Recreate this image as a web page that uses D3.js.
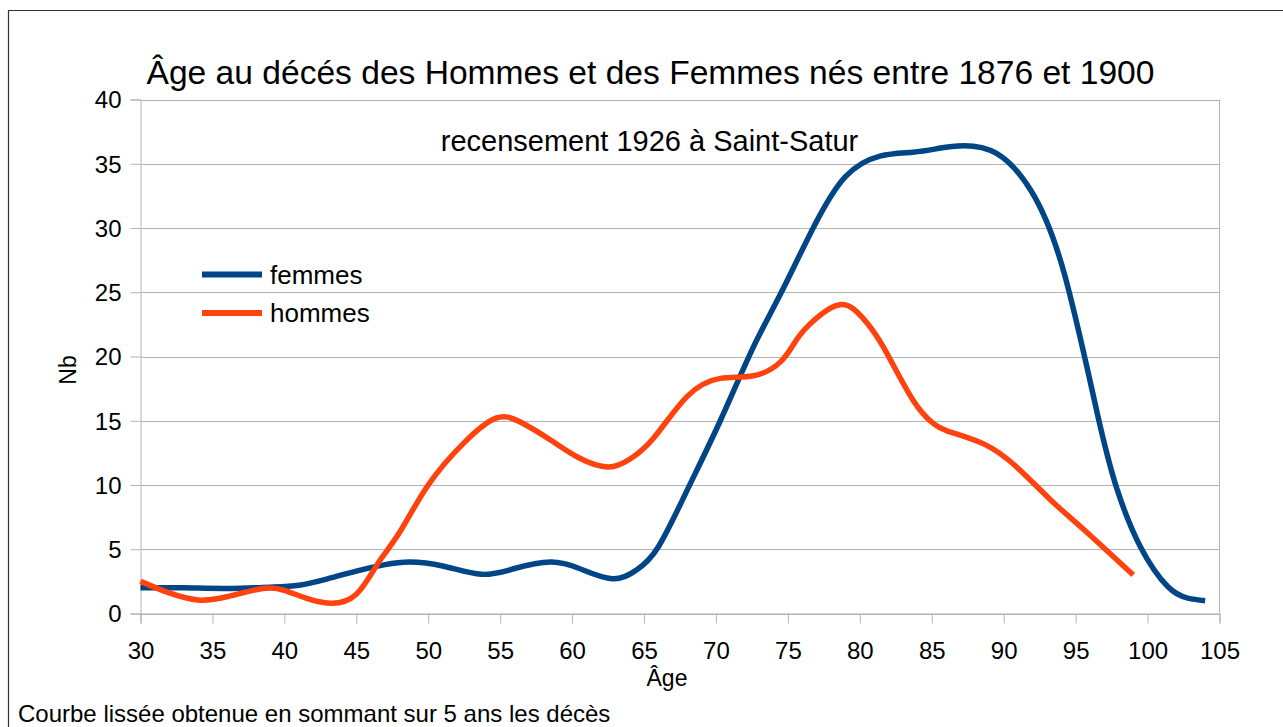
<!DOCTYPE html>
<html><head><meta charset="utf-8">
<script src="https://cdn.jsdelivr.net/npm/d3@7"></script>
<style>body{margin:0;background:#fff}svg{display:block}text{font-family:"Liberation Sans",Arial,sans-serif;fill:#000}</style>
</head><body><svg id="c" width="1283" height="727"></svg>
<script>
const title = "Âge au décés des Hommes et des Femmes nés entre 1876 et 1900";
const subtitle = "recensement 1926 à Saint-Satur";
const footnote = "Courbe lissée obtenue en sommant sur 5 ans les décès";
const xTicks = [30,35,40,45,50,55,60,65,70,75,80,85,90,95,100,105];
const yTicks = [0,5,10,15,20,25,30,35,40];
const femmesAge = [30,33,36,39,41,43,45,47,48.7,51,53.7,56,58.5,60.5,62.8,64.5,66,68,70.3,72.5,74.5,76.8,79,81.4,83.7,85.5,87.2,89.5,91.9,94.2,96.5,97.9,99.5,101.4,102.8,104];
const femmesNb  = [2.0,2.0,1.95,2.05,2.2,2.7,3.3,3.8,4.0,3.7,3.05,3.5,4.0,3.5,2.7,3.4,5.2,9.6,15.0,20.5,24.9,30.1,34.0,35.6,35.9,36.2,36.4,35.8,32.9,26.5,15.6,9.6,5.2,2.1,1.2,1.0];
const hommesAge = [30,32,34,36,38.5,40,41.5,43.2,45,46.5,48,50,52.5,54.7,56.4,58.5,60.5,62.5,64,65.7,68,70.3,72.6,74.5,75.6,76.8,78.7,80.2,81.6,83.7,85.1,86.1,88.6,90.9,93.3,95.6,99];
const hommesNb  = [2.5,1.6,1.05,1.3,1.95,1.8,1.2,0.8,1.5,3.9,6.3,10.0,13.3,15.2,14.9,13.5,12.1,11.4,12.0,13.7,16.9,18.3,18.5,19.6,21.3,22.8,24.05,23.0,20.8,16.6,14.8,14.2,13.2,11.4,8.8,6.5,3.0];
const seriesNames = ["femmes","hommes"];
const colors = ["#004586","#ff420e"];

const svg = d3.select("#c");
const x = d3.scaleLinear().domain([30,105]).range([140.5,1219.5]);
const y = d3.scaleLinear().domain([0,40]).range([613.5,99.5]);

// outer frame
svg.append("path").attr("d","M8.5,727 L8.5,10.5 L1283,10.5").attr("fill","none").attr("stroke","#333").attr("stroke-width",1.2);

// gridlines
svg.append("g").selectAll("line").data(yTicks).join("line")
  .attr("x1",x(30)).attr("x2",x(105)).attr("y1",d=>Math.round(y(d))+0.5).attr("y2",d=>Math.round(y(d))+0.5)
  .attr("stroke","#b3b3b3").attr("stroke-width",1);
svg.append("line").attr("x1",x(105)).attr("x2",x(105)).attr("y1",y(40)).attr("y2",y(0)).attr("stroke","#b3b3b3");

// axes
const xAxis = svg.append("g").attr("transform",`translate(0,${y(0)})`)
  .call(d3.axisBottom(x).tickValues(xTicks).tickSize(10).tickPadding(18));
const yAxis = svg.append("g").attr("transform",`translate(${x(30)},0)`)
  .call(d3.axisLeft(y).tickValues(yTicks).tickSize(10).tickPadding(9));
[xAxis,yAxis].forEach(g=>{
  g.selectAll("path,line").attr("stroke","#b3b3b3");
  g.selectAll("text").style("font-size","24px").attr("fill","#000").style("font-family",'"Liberation Sans",Arial,sans-serif');
});
yAxis.selectAll("text").attr("dy","0.35em");

// lines
const line = d3.line().x(d=>x(d[0])).y(d=>y(d[1])).curve(d3.curveNatural);
const data = [d3.zip(femmesAge,femmesNb), d3.zip(hommesAge,hommesNb)];
svg.append("g").selectAll("path").data(data).join("path")
  .attr("d",line).attr("fill","none").attr("stroke",(d,i)=>colors[i]).attr("stroke-width",5.5);

// legend
const lg = svg.append("g");
seriesNames.forEach((n,i)=>{
  const yy = 274.5 + i*38.5;
  lg.append("line").attr("x1",202).attr("x2",262).attr("y1",yy).attr("y2",yy).attr("stroke",colors[i]).attr("stroke-width",6);
  lg.append("text").attr("x",270).attr("y",yy+9).style("font-size","26px").text(n);
});

// texts
svg.append("text").attr("x",650.5).attr("y",84).attr("text-anchor","middle").style("font-size","33.6px").text(title);
svg.append("text").attr("x",649.5).attr("y",151).attr("text-anchor","middle").style("font-size","29px").text(subtitle);
svg.append("text").attr("x",667).attr("y",686).attr("text-anchor","middle").style("font-size","23px").text("Âge");
svg.append("text").attr("transform","translate(76,370) rotate(-90)").attr("text-anchor","middle").style("font-size","23px").text("Nb");
svg.append("text").attr("x",18).attr("y",722).style("font-size","24px").text(footnote);
</script></body></html>
